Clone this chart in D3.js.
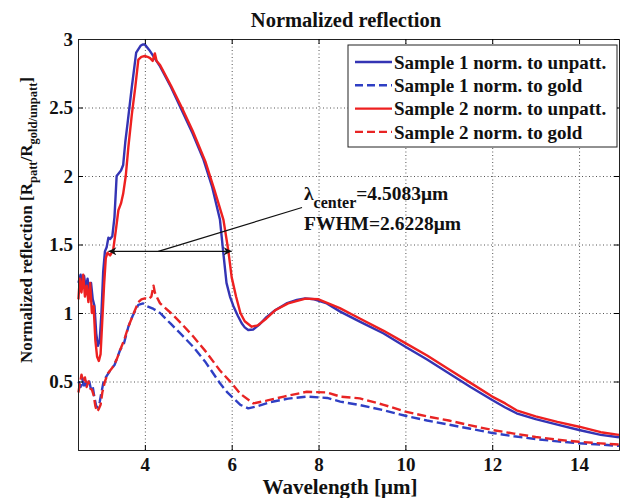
<!DOCTYPE html>
<html>
<head>
<meta charset="utf-8">
<script src="https://d3js.org/d3.v7.min.js"></script>
<style>
  body { margin: 0; background: #fff; }
</style>
</head>
<body>
<script>
  // sample 1, normalised to unpatterned
  const s1uX = [2.47,2.52,2.56,2.6,2.64,2.68,2.72,2.76,2.8,2.84,2.88,2.92,2.96,3.0,3.04,3.08,3.12,3.16,3.2,3.25,3.3,3.35,3.4,3.45,3.5,3.55,3.6,3.7,3.8,3.9,3.95,4.0,4.1,4.35,4.6,4.85,5.1,5.35,5.55,5.73,5.8,5.88,5.96,6.04,6.14,6.23,6.3,6.38,6.5,6.65,6.8,7.0,7.26,7.5,7.69,7.9,8.19,8.5,8.95,9.5,10.0,10.5,11.0,11.5,12.0,12.3,12.56,13.0,13.5,14.0,14.5,14.92];
  const s1uY = [1.22,1.28,1.2,1.27,1.18,1.25,1.16,1.22,1.1,1.05,0.85,0.76,0.8,1.0,1.3,1.45,1.48,1.55,1.54,1.56,1.7,2.0,2.02,2.04,2.08,2.25,2.38,2.65,2.9,2.95,2.96,2.96,2.92,2.8,2.65,2.48,2.31,2.12,1.92,1.68,1.46,1.22,1.12,1.05,0.98,0.925,0.895,0.876,0.88,0.92,0.97,1.02,1.07,1.095,1.107,1.1,1.07,1.01,0.937,0.85,0.754,0.66,0.56,0.46,0.365,0.31,0.268,0.225,0.185,0.146,0.11,0.093];
  // sample 2, normalised to unpatterned
  const s2uX = [2.47,2.5,2.54,2.58,2.62,2.66,2.7,2.74,2.78,2.82,2.86,2.9,2.94,2.98,3.02,3.06,3.1,3.14,3.2,3.27,3.33,3.39,3.45,3.5,3.56,3.62,3.7,3.78,3.85,3.92,4.0,4.06,4.12,4.18,4.23,4.27,4.35,4.6,4.85,5.1,5.4,5.6,5.81,5.92,6.0,6.1,6.2,6.3,6.46,6.6,6.8,7.0,7.3,7.7,8.0,8.49,8.95,9.5,10.0,10.5,11.0,11.5,12.0,12.3,12.56,13.0,13.5,14.0,14.5,14.92];
  const s2uY = [1.1,1.25,1.15,1.28,1.12,1.2,1.08,1.22,1.0,1.05,0.8,0.68,0.65,0.7,0.95,1.2,1.4,1.44,1.42,1.46,1.6,1.75,1.8,1.87,2.0,2.21,2.45,2.65,2.85,2.87,2.876,2.87,2.86,2.84,2.895,2.84,2.81,2.66,2.5,2.33,2.1,1.9,1.68,1.46,1.26,1.12,1.0,0.94,0.9,0.91,0.96,1.02,1.07,1.105,1.1,1.036,0.96,0.87,0.78,0.69,0.59,0.49,0.39,0.34,0.29,0.245,0.205,0.17,0.13,0.11];
  // sample 1, normalised to gold
  const s1gX = [2.47,2.52,2.56,2.6,2.64,2.68,2.72,2.76,2.8,2.84,2.88,2.92,2.96,3.0,3.05,3.1,3.2,3.3,3.43,3.52,3.62,3.72,3.85,3.96,4.05,4.2,4.35,4.6,4.85,5.11,5.4,5.73,5.9,6.04,6.2,6.38,6.6,6.9,7.3,7.73,8.2,8.5,8.95,9.5,10.0,10.5,11.0,11.5,12.0,12.5,13.0,13.5,14.0,14.5,14.92];
  const s1gY = [0.5,0.46,0.52,0.45,0.5,0.47,0.5,0.44,0.46,0.38,0.32,0.31,0.35,0.42,0.5,0.53,0.58,0.62,0.73,0.78,0.9,0.98,1.06,1.07,1.05,1.03,1.0,0.92,0.84,0.754,0.64,0.487,0.42,0.377,0.33,0.304,0.32,0.35,0.375,0.39,0.38,0.353,0.328,0.29,0.25,0.215,0.185,0.155,0.124,0.1,0.08,0.063,0.049,0.04,0.03];
  // sample 2, normalised to gold
  const s2gX = [2.47,2.5,2.54,2.58,2.62,2.66,2.7,2.74,2.78,2.82,2.86,2.9,2.94,2.98,3.02,3.08,3.15,3.25,3.35,3.43,3.52,3.62,3.72,3.85,3.92,4.0,4.08,4.15,4.2,4.23,4.27,4.35,4.6,4.85,5.11,5.4,5.73,6.0,6.2,6.5,6.8,7.2,7.73,8.2,8.5,8.95,9.5,10.0,10.5,11.0,11.5,12.0,12.5,13.0,13.5,14.0,14.5,14.92];
  const s2gY = [0.42,0.48,0.55,0.5,0.53,0.46,0.5,0.45,0.44,0.4,0.32,0.28,0.3,0.33,0.42,0.5,0.56,0.6,0.66,0.73,0.8,0.9,0.98,1.08,1.1,1.107,1.1,1.12,1.2,1.15,1.12,1.07,1.0,0.92,0.83,0.72,0.58,0.487,0.41,0.34,0.36,0.39,0.425,0.42,0.39,0.377,0.33,0.28,0.245,0.215,0.18,0.146,0.12,0.095,0.075,0.06,0.048,0.04];

  const xTicks = [4, 6, 8, 10, 12, 14];
  const yTicks = [0.5, 1, 1.5, 2, 2.5, 3];
  const legendLabels = ["Sample 1 norm. to unpatt.", "Sample 1 norm. to gold",
                        "Sample 2 norm. to unpatt.", "Sample 2 norm. to gold"];

  // FWHM annotation
  const fwhmX = [3.16, 6.0];
  const fwhmY = 1.45;

  const width = 620, height = 498;
  const mLeft = 78, mRight = 619, mTop = 39, mBottom = 450;
  const serif = "'Liberation Serif'";

  // bold serif text like the matlab export
  function font(sel, size) {
    return sel.style("font-family", serif).style("font-weight", "bold")
      .style("font-size", size + "px").style("fill", "#111");
  }

  const svg = d3.select("body").append("svg")
    .attr("width", width)
    .attr("height", height);

  const x = d3.scaleLinear().domain([2.46, 14.92]).range([mLeft, mRight]);
  const y = d3.scaleLinear().domain([0, 3]).range([mBottom, mTop]);

  // grid
  svg.append("g")
    .attr("transform", `translate(0,${mBottom})`)
    .call(d3.axisBottom(x).tickValues(xTicks).tickSize(-(mBottom - mTop)).tickFormat(""))
    .call(g => g.select(".domain").remove())
    .call(g => g.selectAll("line").attr("stroke", "#555").attr("stroke-dasharray", "1,2.5"));
  svg.append("g")
    .attr("transform", `translate(${mLeft},0)`)
    .call(d3.axisLeft(y).tickValues(yTicks).tickSize(-(mRight - mLeft)).tickFormat(""))
    .call(g => g.select(".domain").remove())
    .call(g => g.selectAll("line").attr("stroke", "#555").attr("stroke-dasharray", "1,2.5"));

  // curves
  const series = [
    {xs: s1uX, ys: s1uY, color: "#3434b4", dash: null},
    {xs: s1gX, ys: s1gY, color: "#2f3fc4", dash: "9,4"},
    {xs: s2uX, ys: s2uY, color: "#ee2020", dash: null},
    {xs: s2gX, ys: s2gY, color: "#e82424", dash: "9,4"}
  ];
  const line = d3.line().x(d => x(d[0])).y(d => y(d[1]));

  // draw order: blue below red
  [series[0], series[1], series[3], series[2]].forEach(s => {
    svg.append("path")
      .datum(d3.zip(s.xs, s.ys))
      .attr("fill", "none")
      .attr("stroke", s.color)
      .attr("stroke-width", 2.4)
      .attr("stroke-linejoin", "round")
      .attr("stroke-dasharray", s.dash)
      .attr("d", line);
  });

  // axes with inside ticks
  svg.append("g")
    .attr("transform", `translate(0,${mBottom})`)
    .call(d3.axisBottom(x).tickValues(xTicks).tickSize(-5).tickPadding(8))
    .call(g => font(g.selectAll("text"), 19));
  svg.append("g")
    .attr("transform", `translate(${mLeft},0)`)
    .call(d3.axisLeft(y).tickValues(yTicks).tickSize(-5).tickPadding(5).tickFormat(d3.format("")))
    .call(g => font(g.selectAll("text"), 19));
  svg.append("g")
    .attr("transform", `translate(0,${mTop})`)
    .call(d3.axisTop(x).tickValues(xTicks).tickSize(-5).tickFormat(""));
  svg.append("g")
    .attr("transform", `translate(${mRight},0)`)
    .call(d3.axisRight(y).tickValues(yTicks).tickSize(-5).tickFormat(""));
  svg.selectAll(".domain").attr("stroke", "#222");

  // title and labels
  font(svg.append("text"), 20.5)
    .attr("x", 346).attr("y", 27)
    .attr("text-anchor", "middle")
    .text("Normalized reflection");

  font(svg.append("text"), 21)
    .attr("x", 340).attr("y", 494)
    .attr("text-anchor", "middle")
    .text("Wavelength [\u03bcm]");

  const yl = font(svg.append("text"), 17)
    .attr("transform", "translate(32,220) rotate(-90)")
    .attr("text-anchor", "middle");
  yl.append("tspan").text("Normalized reflection [R");
  yl.append("tspan").attr("dy", 5).style("font-size", "12.5px").text("patt");
  yl.append("tspan").attr("dy", -5).text("/R");
  yl.append("tspan").attr("dy", 5).style("font-size", "12.5px").text("gold/unpatt");
  yl.append("tspan").attr("dy", -5).text("]");

  // legend
  const lg = svg.append("g");
  lg.append("rect")
    .attr("x", 348).attr("y", 45).attr("width", 269).attr("height", 102)
    .attr("fill", "#fff").attr("stroke", "#222").attr("stroke-width", 1);
  series.forEach((s, i) => {
    const cy = 62 + i * 23.3;
    lg.append("line")
      .attr("x1", 355).attr("x2", 392).attr("y1", cy).attr("y2", cy)
      .attr("stroke", s.color).attr("stroke-width", 2.4)
      .attr("stroke-dasharray", s.dash ? "8,4" : null);
    font(lg.append("text"), 19)
      .attr("x", 394).attr("y", cy).attr("dy", "0.35em")
      .text(legendLabels[i]);
  });

  // FWHM arrow
  const defs = svg.append("defs");
  defs.append("marker")
    .attr("id", "head")
    .attr("viewBox", "0 -5 10 10")
    .attr("refX", 10).attr("refY", 0)
    .attr("markerWidth", 12).attr("markerHeight", 8)
    .attr("markerUnits", "userSpaceOnUse")
    .attr("orient", "auto-start-reverse")
    .append("path").attr("d", "M0,-5L10,0L0,5L3,0Z").attr("fill", "#111");

  svg.append("line")
    .attr("x1", x(fwhmX[0])).attr("x2", x(fwhmX[1]))
    .attr("y1", y(fwhmY)).attr("y2", y(fwhmY))
    .attr("stroke", "#111").attr("stroke-width", 1.4)
    .attr("marker-start", "url(#head)").attr("marker-end", "url(#head)");

  svg.append("line")
    .attr("x1", x(4.31)).attr("y1", y(fwhmY))
    .attr("x2", x(7.62)).attr("y2", y(1.77))
    .attr("stroke", "#111").attr("stroke-width", 1.2);

  const t1 = font(svg.append("text"), 19.5).attr("x", 304).attr("y", 200);
  t1.append("tspan").text("\u03bb");
  t1.append("tspan").attr("dy", 8).style("font-size", "16px").text("center");
  t1.append("tspan").attr("dy", -8).text("=4.5083\u03bcm");

  font(svg.append("text"), 19.5).attr("x", 304).attr("y", 230)
    .text("FWHM=2.6228\u03bcm");
</script>
</body>
</html>
